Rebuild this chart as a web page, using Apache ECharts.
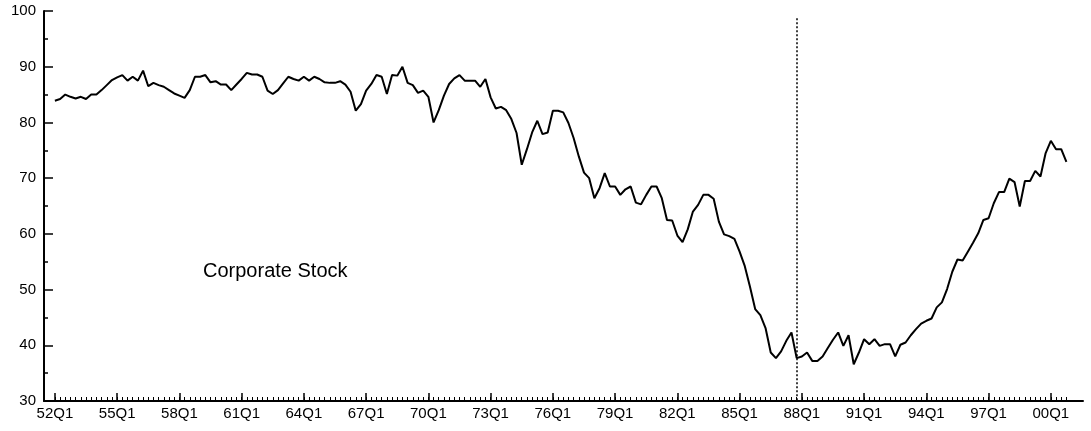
<!DOCTYPE html>
<html>
<head>
<meta charset="utf-8">
<script src="https://cdn.jsdelivr.net/npm/echarts@6/dist/echarts.min.js"></script>
<style>
html,body{margin:0;padding:0;background:#fff;}
#chart{width:1091px;height:431px;}
</style>
</head>
<body>
<div id="chart"></div>
<script>
// Quarter index 0 = 52Q1
const startYear = 1952;
const values = [
83.9,84.2,85.0,84.6,84.3,84.6,84.2,85.0,85.0,85.8,
86.7,87.6,88.1,88.5,87.5,88.2,87.5,89.3,86.5,87.1,
86.7,86.4,85.8,85.2,84.8,84.4,85.8,88.2,88.2,88.5,
87.2,87.4,86.8,86.8,85.8,86.8,87.8,88.9,88.6,88.6,
88.2,85.7,85.1,85.8,87.0,88.2,87.8,87.5,88.2,87.5,
88.2,87.8,87.2,87.1,87.1,87.4,86.8,85.5,82.1,83.3,
85.7,86.9,88.5,88.2,85.1,88.5,88.4,90.0,87.1,86.7,
85.3,85.7,84.6,80.0,82.2,84.8,86.9,87.9,88.5,87.5,
87.5,87.5,86.4,87.8,84.5,82.5,82.8,82.2,80.6,78.1,
72.4,75.2,78.2,80.3,77.9,78.2,82.1,82.1,81.8,79.9,
77.2,73.9,71.0,70.0,66.4,68.2,70.9,68.5,68.5,67.0,
68.0,68.5,65.6,65.3,67.0,68.5,68.5,66.4,62.5,62.4,
59.7,58.5,60.8,64.0,65.2,67.0,67.0,66.3,62.2,59.9,
59.6,59.1,56.8,54.2,50.5,46.5,45.4,43.1,38.7,37.7,
38.9,40.8,42.3,37.7,38.0,38.7,37.2,37.2,38.0,39.5,
41.0,42.3,39.9,41.8,36.6,38.7,41.1,40.2,41.1,39.9,
40.2,40.2,38.0,40.1,40.5,41.8,42.9,43.9,44.4,44.8,
46.8,47.7,50.1,53.2,55.4,55.2,56.8,58.4,60.1,62.5,
62.8,65.5,67.5,67.5,69.9,69.3,64.9,69.5,69.5,71.3,
70.3,74.5,76.7,75.2,75.2,72.9
];
const tickLabels = ['52Q1','55Q1','58Q1','61Q1','64Q1','67Q1','70Q1','73Q1','76Q1','79Q1','82Q1','85Q1','88Q1','91Q1','94Q1','97Q1','00Q1'];
const tickIndex = [0,12,24,36,48,60,72,84,96,108,120,132,144,156,168,180,192];
const markerIndex = 143; // 87Q4
const markerTop = 98.7;
const seriesLabel = 'Corporate Stock';

const data = values.map((v, i) => [i, v]);
const minorTicks = values.map((v, i) => i);
const labelMap = {};
tickIndex.forEach((t, k) => { labelMap[t] = tickLabels[k]; });

const font = 'Liberation Sans, Arial, sans-serif';
const chart = echarts.init(document.getElementById('chart'), null, {renderer: 'canvas'});
const xMin = -2.1, xMax = 198.2;
chart.setOption({
  animation: false,
  backgroundColor: '#fff',
  grid: {left: 44, right: 8, top: 11, bottom: 30, containLabel: false},
  xAxis: [{
    type: 'value', min: xMin, max: xMax, position: 'bottom',
    splitLine: {show: false},
    axisLine: {show: true, onZero: false, lineStyle: {color: '#000', width: 2}},
    axisTick: {show: true, inside: true, length: 8, customValues: tickIndex, lineStyle: {color: '#000', width: 1.5}},
    axisLabel: {show: true, customValues: tickIndex, margin: 5, color: '#000', fontSize: 15, fontFamily: font,
      formatter: v => labelMap[Math.round(v)] || ''}
  }, {
    type: 'value', min: xMin, max: xMax, position: 'bottom',
    splitLine: {show: false},
    axisLine: {show: false, onZero: false},
    axisTick: {show: true, inside: true, length: 4, customValues: minorTicks, lineStyle: {color: '#000', width: 1}},
    axisLabel: {show: false}
  }],
  yAxis: {
    type: 'value', min: 30, max: 100, interval: 10,
    splitLine: {show: false},
    axisLine: {show: true, onZero: false, lineStyle: {color: '#000', width: 2}},
    axisTick: {show: true, inside: true, length: 9, lineStyle: {color: '#000', width: 1.5}},
    minorTick: {show: true, splitNumber: 2, length: 4, lineStyle: {color: '#000', width: 1.5}},
    axisLabel: {margin: 8, color: '#000', fontSize: 15, fontFamily: font}
  },
  graphic: [{
    type: 'text', left: 203, top: 261,
    style: {text: seriesLabel, fill: '#000', font: '20px ' + font}
  }],
  series: [{
    type: 'line', data: data, xAxisIndex: 0,
    showSymbol: false, symbol: 'none',
    lineStyle: {color: '#000', width: 2},
    markLine: {
      silent: true, symbol: ['none', 'none'], label: {show: false},
      lineStyle: {color: '#000', width: 1.5, type: [2, 2]},
      data: [[{coord: [markerIndex, markerTop]}, {coord: [markerIndex, 30]}]]
    }
  }]
});
</script>
</body>
</html>
